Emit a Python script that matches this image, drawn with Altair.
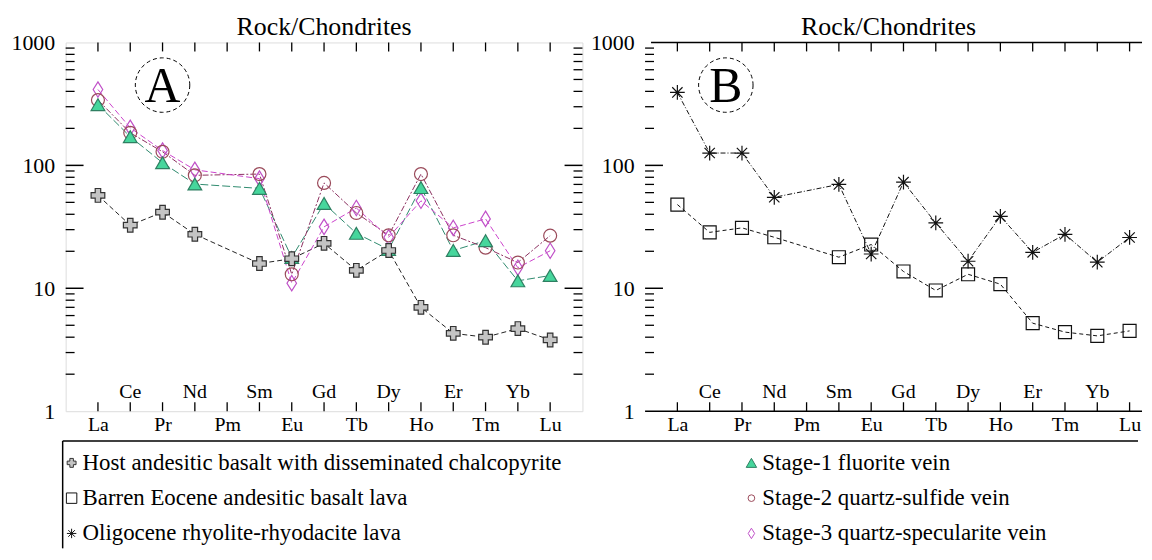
import altair as alt
import pandas as pd

# ---------------- data ----------------
elements = ["La", "Ce", "Pr", "Nd", "Pm", "Sm", "Eu", "Gd", "Tb", "Dy", "Ho", "Er", "Tm", "Yb", "Lu"]
data_elements = ["La", "Ce", "Pr", "Nd", "Sm", "Eu", "Gd", "Tb", "Dy", "Ho", "Er", "Tm", "Yb", "Lu"]

host = [57, 32.6, 41.6, 27.5, 15.9, 17.4, 23.2, 14.0, 20.3, 7.0, 4.3, 4.0, 4.7, 3.8]
stage1 = [312, 171, 105, 70.5, 65, 17.8, 49, 28, 20.7, 66, 20.3, 24.4, 11.5, 12.7]
stage2 = [340, 184, 129, 83, 85, 13, 72, 41, 27, 85, 27, 21.4, 16.2, 26.8]
stage3 = [414, 202, 132, 92, 78, 11, 31.6, 45, 26, 51.5, 31, 36.7, 14.7, 20.2]
barren = [48, 28.5, 31, 26, 17.9, 22.7, 13.7, 9.6, 13, 10.8, 5.2, 4.4, 4.1, 4.5]
rhyolite = [392, 126, 126, 55, 70, 19, 73, 34, 16.6, 38.5, 19.6, 27.5, 16.3, 25.9]

panel_title = "Rock/Chondrites"
legend_labels = [
    "Host andesitic basalt with disseminated chalcopyrite",
    "Barren Eocene andesitic basalt lava",
    "Oligocene rhyolite-rhyodacite lava",
    "Stage-1 fluorite vein",
    "Stage-2 quartz-sulfide vein",
    "Stage-3 quartz-specularite vein",
]

y_label_values = [1, 10, 100, 1000]
minor_values = [m * d for d in (1, 10, 100) for m in range(2, 10)]
major_values = [10, 100]

# ---------------- style ----------------
SERIF = "Liberation Serif"
H = 371
W_A = 520
W_B = 500
W_L = 1079
H_L = 108

ASTERISK = "M-1,0L1,0M0,-1L0,1M-0.7,-0.7L0.7,0.7M-0.7,0.7L0.7,-0.7"
DIAMOND = "M0,-1L0.62,0L0,1L-0.62,0Z"

styles = {
    "host": dict(shape="cross", fill="#c4c4c4", stroke="#333333", size=190, line="#222222", dash=[5, 3], filled=True),
    "stage1": dict(shape="triangle-up", fill="#46d69c", stroke="#2f7f62", size=190, line="#2e8a6e", dash=[8, 3], filled=True),
    "stage2": dict(shape="circle", fill="transparent", stroke="#9a4a5a", size=170, line="#8b3060", dash=[6, 2, 2, 2], filled=False),
    "stage3": dict(shape=DIAMOND, fill="transparent", stroke="#c050c8", size=240, line="#cc44cc", dash=[6, 3], filled=False),
    "barren": dict(shape="square", fill="transparent", stroke="#111111", size=170, line="#111111", dash=[4, 3], filled=False),
    "rhyolite": dict(shape=ASTERISK, fill="transparent", stroke="#111111", size=220, line="#111111", dash=[5, 2, 1, 2], filled=False),
}

label_expr = "[" + ",".join("'%s'" % e for e in elements) + "][datum.value]"
odd_idx = list(range(0, len(elements), 2))
even_idx = list(range(1, len(elements), 2))


def series_df(values):
    return pd.DataFrame({
        "idx": [elements.index(e) for e in data_elements],
        "v": values,
    })


def make_panel(series_list, width, xmax, letter, letter_idx, full_frame, title_x):
    xscale = alt.Scale(domain=[-1, xmax], nice=False, zero=False)
    yscale = alt.Scale(type="log", domain=[1, 1000], nice=False)
    X = alt.X("idx:Q", scale=xscale,
              axis=alt.Axis(values=odd_idx, labelExpr=label_expr, ticks=False, domain=False, grid=False,
                            title=None, labelFont=SERIF, labelFontSize=20, labelPadding=3,
                            labelColor="black", labelFlush=False, labelOverlap=False))
    Y = alt.Y("v:Q", scale=yscale,
              axis=alt.Axis(values=y_label_values, format="d", ticks=False, domain=False, grid=False,
                            title=None, labelFont=SERIF, labelFontSize=22, labelPadding=11,
                            labelColor="black", labelFlush=False, labelOverlap=False))
    layers = []
    dummy = pd.DataFrame({"t": [panel_title]})

    # panel title as text
    layers.append(alt.Chart(dummy).mark_text(font=SERIF, fontSize=26, baseline="alphabetic", align="center",
                                             color="black").encode(
        x=alt.value(title_x), y=alt.value(-8), text="t:N"))

    # frame lines for panel without full frame
    if not full_frame:
        layers.append(alt.Chart(dummy).mark_rule(color="black", strokeWidth=1.5).encode(
            x=alt.value(6), x2=alt.value(width), y=alt.value(0)))
        layers.append(alt.Chart(dummy).mark_rule(color="black", strokeWidth=1.5).encode(
            x=alt.value(0), x2=alt.value(width), y=alt.value(H)))

    # y ticks (inside) on left
    minor_df = pd.DataFrame({"v": minor_values})
    major_df = pd.DataFrame({"v": major_values})
    layers.append(alt.Chart(minor_df).mark_rule(color="black", strokeWidth=1.3).encode(
        y=Y, x=alt.value(0), x2=alt.value(9)))
    layers.append(alt.Chart(major_df).mark_rule(color="black", strokeWidth=1.5).encode(
        y=Y, x=alt.value(0), x2=alt.value(18)))
    if full_frame:
        layers.append(alt.Chart(minor_df).mark_rule(color="black", strokeWidth=1.3).encode(
            y=Y, x=alt.value(width - 9), x2=alt.value(width)))
        layers.append(alt.Chart(major_df).mark_rule(color="black", strokeWidth=1.5).encode(
            y=Y, x=alt.value(width - 18), x2=alt.value(width)))

    # x ticks (inside) top and bottom
    tick_df = pd.DataFrame({"idx": list(range(len(elements)))})
    layers.append(alt.Chart(tick_df).mark_rule(color="black", strokeWidth=1.3).encode(
        x=X, y=alt.value(H - 9), y2=alt.value(H)))
    layers.append(alt.Chart(tick_df).mark_rule(color="black", strokeWidth=1.3).encode(
        x=X, y=alt.value(0), y2=alt.value(9)))

    # even element labels inside plot
    even_df = pd.DataFrame({"idx": even_idx, "name": [elements[i] for i in even_idx]})
    layers.append(alt.Chart(even_df).mark_text(font=SERIF, fontSize=20, baseline="alphabetic",
                                               color="black").encode(
        x=X, y=alt.value(H - 13), text="name:N"))

    # panel letter in dashed circle
    ann_df = pd.DataFrame({"idx": [letter_idx], "v": [450], "label": [letter]})
    layers.append(alt.Chart(ann_df).mark_point(shape="circle", size=3000, stroke="black", strokeWidth=1,
                                               strokeDash=[4, 3], filled=False, opacity=1).encode(x=X, y=Y))
    layers.append(alt.Chart(ann_df).mark_text(font=SERIF, fontSize=50, baseline="middle", dy=2,
                                              color="black").encode(x=X, y=Y, text="label:N"))

    # series lines
    for name, vals in series_list:
        s = styles[name]
        layers.append(alt.Chart(series_df(vals)).mark_line(color=s["line"], strokeWidth=1,
                                                           strokeDash=s["dash"]).encode(x=X, y=Y))
    # series points
    for name, vals in reversed(series_list):
        s = styles[name]
        kw = dict(shape=s["shape"], size=s["size"], stroke=s["stroke"], strokeWidth=1.2, opacity=1)
        if s["filled"]:
            kw.update(filled=True, fill=s["fill"], fillOpacity=1)
        else:
            kw.update(filled=False)
        layers.append(alt.Chart(series_df(vals)).mark_point(**kw).encode(x=X, y=Y))

    panel = alt.layer(*layers).properties(width=width, height=H)
    if not full_frame:
        panel = panel.properties(view=alt.ViewBackground(stroke="transparent"))
    return panel


panelA = make_panel([("host", host), ("stage1", stage1), ("stage2", stage2), ("stage3", stage3)],
                    W_A, 15, "A", 2, True, W_A / 2)
panelB = make_panel([("barren", barren), ("rhyolite", rhyolite)],
                    W_B, W_B / 32.5 - 1, "B", 1.5, False, W_B / 2 - 5)

# ---------------- legend ----------------
leg_order = ["host", "barren", "rhyolite", "stage1", "stage2", "stage3"]
leg_sizes = {"host": 80, "barren": 110, "rhyolite": 90, "stage1": 110, "stage2": 45, "stage3": 110}
leg_df = pd.DataFrame({
    "key": leg_order,
    "label": legend_labels,
    "col": [i // 3 for i in range(len(leg_order))],
    "row": [i % 3 for i in range(len(leg_order))],
})
LX = alt.X("col:Q", scale=alt.Scale(domain=[0, 1], range=[6, 690]), axis=None)
LY = alt.Y("row:Q", scale=alt.Scale(domain=[0, 2], range=[22, 93]), axis=None)
dummy = pd.DataFrame({"d": [0]})
leg_layers = [
    alt.Chart(dummy).mark_rule(color="black", strokeWidth=1.5).encode(
        x=alt.value(-3), x2=alt.value(W_L), y=alt.value(0)),
    alt.Chart(dummy).mark_rule(color="black", strokeWidth=1.5).encode(
        x=alt.value(-3), y=alt.value(0), y2=alt.value(H_L)),
]
for i, key in enumerate(leg_order):
    s = styles[key]
    kw = dict(shape=s["shape"], size=leg_sizes[key], stroke=s["stroke"], strokeWidth=1, opacity=1)
    if s["filled"]:
        kw.update(filled=True, fill=s["fill"], fillOpacity=1)
    else:
        kw.update(filled=False)
    leg_layers.append(alt.Chart(leg_df.iloc[[i]]).mark_point(**kw).encode(x=LX, y=LY))
leg_layers.append(alt.Chart(leg_df).mark_text(font=SERIF, fontSize=23, align="left", baseline="middle",
                                              dx=11, color="black").encode(x=LX, y=LY, text="label:N"))
legend = alt.layer(*leg_layers).properties(width=W_L, height=H_L,
                                           view=alt.ViewBackground(stroke="transparent"))

top = alt.hconcat(panelA, panelB, spacing=5)
chart = alt.vconcat(top, legend, spacing=4).properties(
    padding={"left": 2, "top": 3, "right": 0, "bottom": 0}
).configure_view(stroke="black", strokeWidth=1.5).configure(background="white")

chart.save("out.html", embed_options={"renderer": "svg", "actions": False})
